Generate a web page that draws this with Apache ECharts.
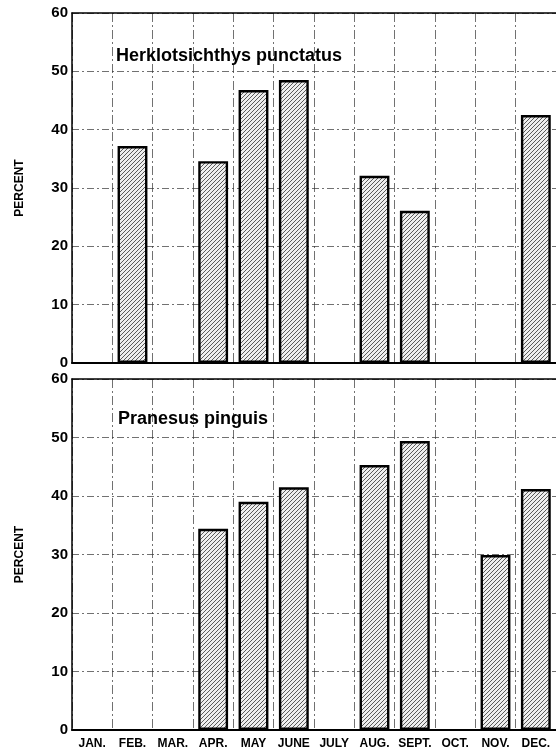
<!DOCTYPE html>
<html>
<head>
<meta charset="utf-8">
<script src="https://cdn.jsdelivr.net/npm/echarts@6/dist/echarts.min.js"></script>
<style>
html,body{margin:0;padding:0;background:#fff;}
#chart{width:556px;height:753px;}
</style>
</head>
<body>
<div id="chart"></div>
<script>
const months = ['JAN.', 'FEB.', 'MAR.', 'APR.', 'MAY', 'JUNE', 'JULY', 'AUG.', 'SEPT.', 'OCT.', 'NOV.', 'DEC.'];
const herklotsichthys = [null, 37.2, null, 34.6, 46.8, 48.5, null, 32.1, 26.1, null, null, 42.5];
const pranesus = [null, null, null, 34.4, 39.0, 41.5, null, 45.3, 49.4, null, 29.9, 41.2];
const yTicks = [0, 10, 20, 30, 40, 50, 60];
const titleTop = 'Herklotsichthys punctatus';
const titleBottom = 'Pranesus pinguis';
const yName = 'PERCENT';

// hatch pattern
const pc = document.createElement('canvas');
pc.width = 4; pc.height = 4;
const ctx = pc.getContext('2d');
ctx.fillStyle = '#eeeeee';
ctx.fillRect(0, 0, 4, 4);
ctx.strokeStyle = '#333';
ctx.lineWidth = 0.8;
ctx.beginPath();
ctx.moveTo(-1, 5); ctx.lineTo(5, -1);
ctx.moveTo(-1, 1); ctx.lineTo(1, -1);
ctx.moveTo(3, 5); ctx.lineTo(5, 3);
ctx.stroke();
const hatch = { image: pc, repeat: 'repeat' };

const font = 'Liberation Sans, Arial, sans-serif';
const gridLine = { show: true, lineStyle: { color: '#333', width: 0.7, type: [7, 3, 2, 3] } };

function yAxisFor(idx) {
  return {
    type: 'value', gridIndex: idx, min: yTicks[0], max: yTicks[yTicks.length - 1], interval: 10,
    name: yName, nameLocation: 'middle', nameRotate: 90, nameGap: 46,
    nameTextStyle: { fontFamily: font, fontWeight: 'bold', fontSize: 12, color: '#000' },
    axisLine: { show: true, lineStyle: { color: '#000', width: 1.5 } },
    axisTick: { show: false },
    axisLabel: { fontFamily: font, fontWeight: 'bold', fontSize: 15, color: '#000', margin: 4 },
    splitLine: gridLine
  };
}
function xAxisFor(idx, showLabels) {
  return {
    type: 'category', gridIndex: idx, data: months, boundaryGap: true,
    axisLine: { show: true, lineStyle: { color: '#000', width: 2 } },
    axisTick: { show: false },
    axisLabel: { show: showLabels, fontFamily: font, fontWeight: 'bold', fontSize: 12, color: '#000', margin: 8, interval: 0 },
    splitLine: { show: true, interval: 0, lineStyle: { color: '#333', width: 0.7, type: [9, 3, 2, 3] } }
  };
}
function topAxisFor(idx) {
  return {
    type: 'category', gridIndex: idx, data: months, position: 'top',
    axisLine: { show: true, lineStyle: { color: '#000', width: 1.5 } },
    axisTick: { show: false }, axisLabel: { show: false }, splitLine: { show: false }
  };
}
function barSeries(data, idx) {
  return {
    type: 'bar', xAxisIndex: idx * 2, yAxisIndex: idx, data: data, barWidth: '74%',
    itemStyle: { color: hatch, borderColor: '#000', borderWidth: 2.4 },
    silent: true, animation: false
  };
}

const chart = echarts.init(document.getElementById('chart'), null, { renderer: 'canvas' });
chart.setOption({
  animation: false,
  backgroundColor: '#fff',
  title: [
    { text: titleTop, left: 111, top: 42, textStyle: { fontFamily: font, fontWeight: 'bold', fontSize: 18, color: '#000' } },
    { text: titleBottom, left: 113, top: 405, textStyle: { fontFamily: font, fontWeight: 'bold', fontSize: 18, color: '#000' } }
  ],
  grid: [
    { left: 72, top: 13, right: 0, height: 350 },
    { left: 72, top: 379, right: 0, height: 351 }
  ],
  xAxis: [xAxisFor(0, false), topAxisFor(0), xAxisFor(1, true), topAxisFor(1)],
  yAxis: [yAxisFor(0), yAxisFor(1)],
  series: [barSeries(herklotsichthys, 0), barSeries(pranesus, 1)]
});
</script>
</body>
</html>
